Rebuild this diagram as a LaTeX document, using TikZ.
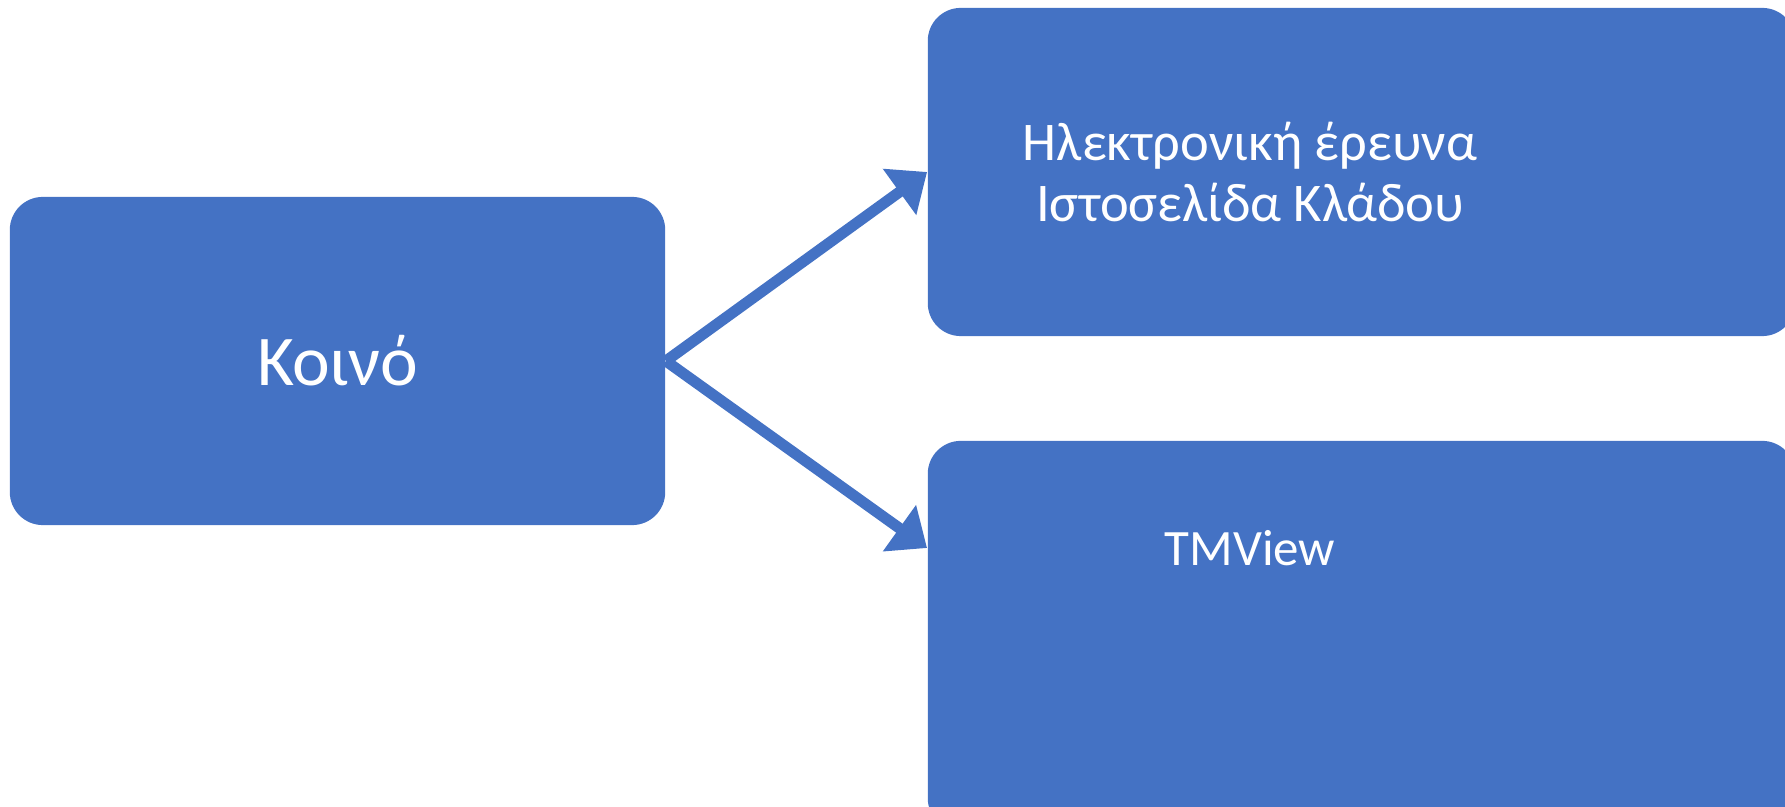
\documentclass[tikz,border=0pt]{standalone}
\usepackage{fontspec}
\setmainfont{Carlito}
\usetikzlibrary{arrows.meta}
\definecolor{boxblue}{HTML}{4472C4}
\begin{document}
\begin{tikzpicture}[x=0.01cm,y=-0.01cm,
  box/.style={rectangle,rounded corners=0.33cm,fill=boxblue,draw=none,inner sep=0pt},
  txt/.style={text=white,align=center,font=\fontsize{15.5}{17.3}\selectfont},
  conn/.style={draw=boxblue,line width=0.11cm,-{Triangle[length=0.34cm,width=0.55cm]}}]
\useasboundingbox (0,0) rectangle (1785,807);
\node[box,minimum width=6.55cm,minimum height=3.28cm] (K) at (337.5,361) {};
\node[box,minimum width=8.67cm,minimum height=3.28cm] (HE) at (1361.5,172) {};
\node[box,minimum width=8.67cm,minimum height=3.90cm] (TM) at (1361.5,636) {};
\node[txt,font=\fontsize{20.3}{24}\selectfont] (Kt) at (K) {Κοινό};
\node[txt] (HEt) at (1250,172) {Ηλεκτρονική έρευνα\\Ιστοσελίδα Κλάδου};
\node[txt,font=\fontsize{14.5}{17}\selectfont] (TMt) at (1250,548) {TMView};
\draw[conn] (K.east) -- (HE.west);
\draw[conn] (K.east) -- (TM.west |- TMt);
\end{tikzpicture}
\end{document}
